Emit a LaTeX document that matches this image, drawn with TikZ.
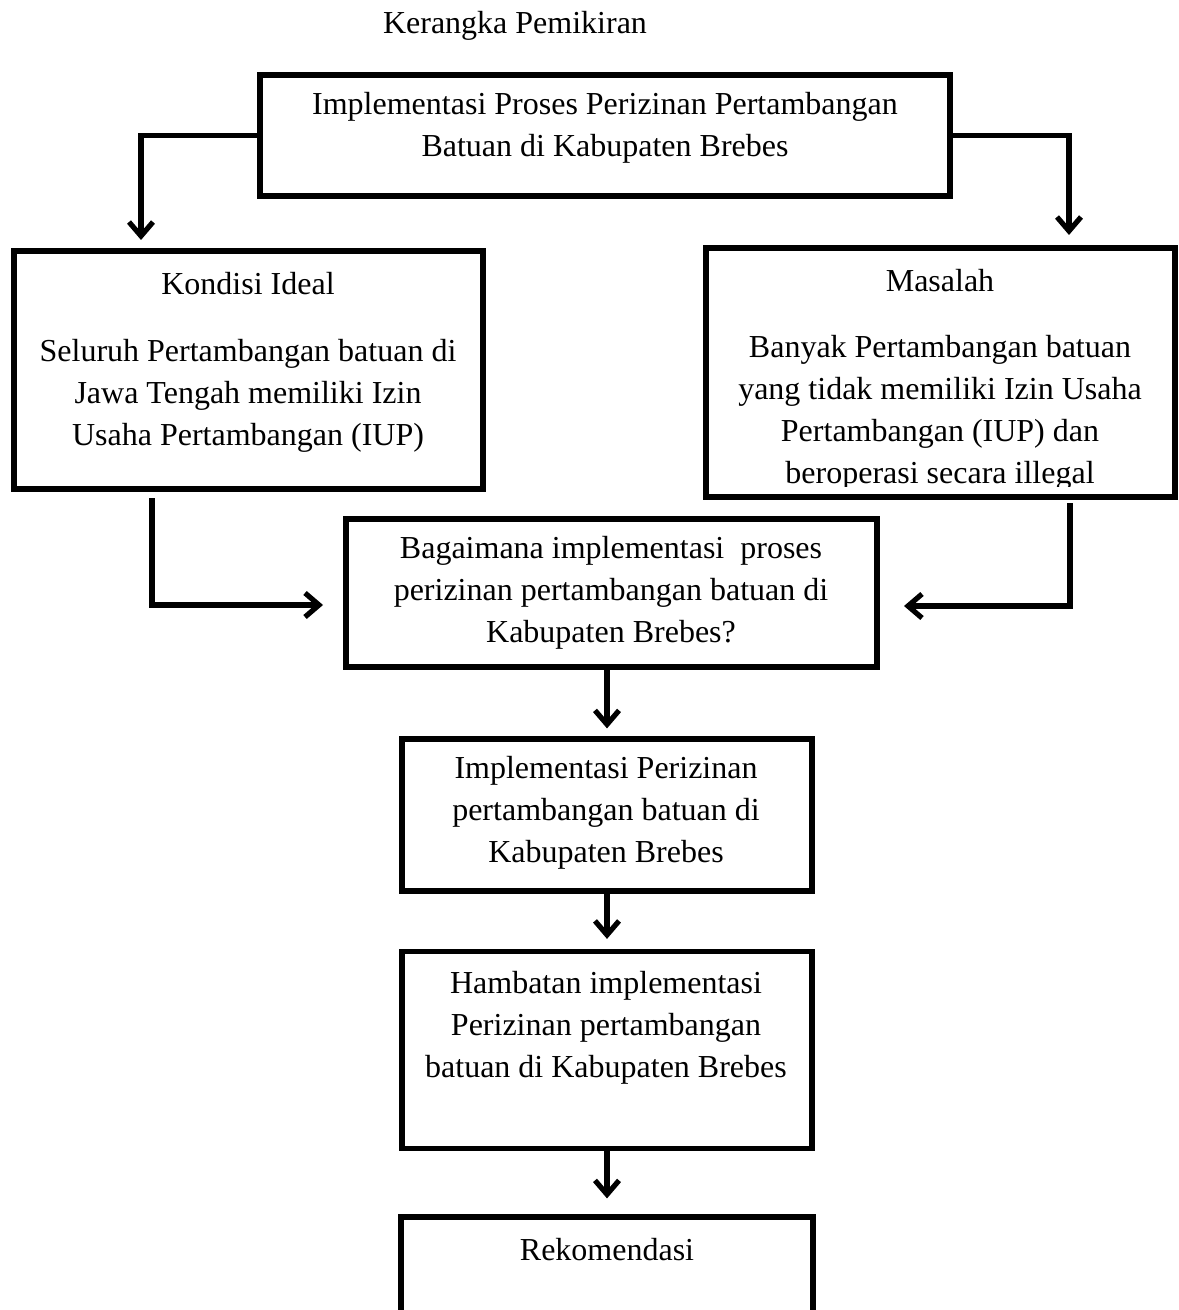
\documentclass[tikz,border=0pt]{standalone}
\usepackage{fontspec}
\setmainfont{Liberation Serif}
\usetikzlibrary{positioning, calc, arrows.meta}
\tikzset{>={Straight Barb[length=7pt, width=12pt]}}

\begin{document}
\begin{tikzpicture}
    [
        x=0.5pt, y=0.5pt,
        box/.style={rectangle, draw=black, line width=2.6pt, inner sep=0pt},
        txt/.style={align=center, inner sep=0pt, font=\fontsize{16}{21}\selectfont},
        conn/.style={->, line width=2.6pt},
    ]
  \useasboundingbox (0,0) rectangle (1178,-1310);
  \clip (0,0) rectangle (1178,-1310);

  % boxes
  \node[box, minimum width=345pt, minimum height=60.5pt] (top) at (605,-135.5) {};
  \node[box, minimum width=234.5pt, minimum height=119pt] (ideal) at (248.5,-370) {};
  \node[box, minimum width=234.5pt, minimum height=124.5pt] (masalah) at (940.5,-372.5) {};
  \node[box, minimum width=265.5pt, minimum height=74pt] (tanya) at (611.5,-593) {};
  \node[box, minimum width=205pt, minimum height=76pt] (impl) at (607,-815) {};
  \node[box, minimum width=205pt, minimum height=98.5pt] (hambatan) at (607,-1050) {};
  \node[box, minimum width=206pt, minimum height=92pt] (rekom) at (607,-1309) {};

  % texts
  \node[txt] (judul) at (515,-26) {Kerangka Pemikiran};
  \node[txt] (top text) at (605,-128) {Implementasi Proses Perizinan Pertambangan\\Batuan di Kabupaten Brebes};
  \node[txt] (ideal title) at (248,-284) {Kondisi Ideal};
  \node[txt] (ideal text) at (248,-396) {Seluruh Pertambangan batuan di\\Jawa Tengah memiliki Izin\\Usaha Pertambangan (IUP)};
  \node[txt] (masalah title) at (940,-281) {Masalah};
  \begin{scope}
    \clip (706,-248) rectangle (1175,-486);
    \node[txt] (masalah text) at (940,-413) {Banyak Pertambangan batuan\\yang tidak memiliki Izin Usaha\\Pertambangan (IUP) dan\\beroperasi secara illegal};
  \end{scope}
  \node[txt] (tanya text) at (611,-593) {Bagaimana implementasi\ \ proses\\perizinan pertambangan batuan di\\Kabupaten Brebes?};
  \node[txt] (impl text) at (606,-813) {Implementasi Perizinan\\pertambangan batuan di\\Kabupaten Brebes};
  \node[txt] (hambatan text) at (606,-1028) {Hambatan implementasi\\Perizinan pertambangan\\batuan di Kabupaten Brebes};
  \node[txt] (rekom text) at (607,-1250) {Rekomendasi};

  % connector ends
  \coordinate (ideal in) at (141,-240);
  \coordinate (masalah in) at (1069,-235);
  \coordinate (ideal out) at (152,-498);
  \coordinate (masalah out) at (1070,-503);
  \coordinate (tanya left) at (323,-605);
  \coordinate (tanya right) at (904,-606);

  \draw[conn] (top.west) -| (ideal in);
  \draw[conn] (top.east) -| (masalah in);
  \draw[conn] (ideal out) |- (tanya left);
  \draw[conn] (masalah out) |- (tanya right);
  \draw[conn, shorten >=4pt] (impl.north |- tanya.south) -- (impl.north);
  \draw[conn, shorten >=5pt] (impl.south) -- (hambatan.north);
  \draw[conn, shorten >=8pt] (hambatan.south) -- (rekom.north);
\end{tikzpicture}
\end{document}
